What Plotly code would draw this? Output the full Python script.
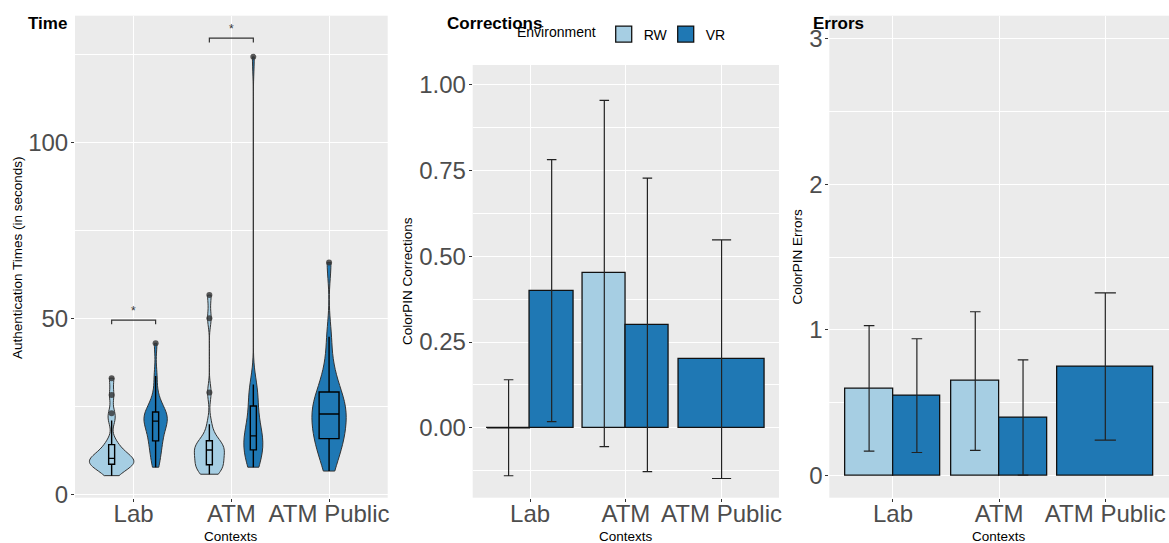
import numpy as np
import plotly.graph_objects as go

W, H = 1169, 543
FONT = "Liberation Sans, Arial, sans-serif"

# ---------------- data ----------------
contexts = ["Lab", "ATM", "ATM Public"]
environments = ["RW", "VR"]

# Authentication times (seconds), estimated samples per group
time_lab_rw = [5.3, 6.8, 7.5, 8.0, 8.3, 8.6, 8.9, 9.2, 9.5, 9.8, 10.2, 10.6, 11.0,
               11.6, 12.5, 13.8, 15.0, 21.0, 23.0, 28.2, 33.0]
time_lab_vr = [7.7, 9.5, 11.5, 13.0, 14.5, 15.4, 16.8, 18.0, 19.2, 20.0, 20.8, 21.3,
               21.8, 22.2, 22.7, 23.2, 24.0, 25.5, 28.0, 33.6, 42.9]
time_atm_rw = [5.7, 6.5, 7.0, 7.6, 8.0, 8.5, 9.3, 10.2, 11.0, 11.8, 12.6, 13.0, 13.4,
               13.8, 14.3, 14.8, 16.5, 19.9, 28.9, 50.0, 56.6]
time_atm_vr = [7.7, 8.5, 9.5, 10.5, 11.8, 12.9, 13.6, 14.3, 15.0, 15.8, 16.6, 17.5,
               18.5, 20.0, 22.0, 24.6, 26.5, 28.5, 30.0, 31.2, 124.3]
time_atmpub_vr = [6.6, 9.5, 12.0, 13.8, 15.0, 16.1, 17.5, 19.0, 20.2, 21.5, 22.8, 23.8,
                  24.8, 25.8, 27.0, 28.6, 30.5, 33.0, 37.0, 44.8, 65.9]

time_groups = [
    ("Lab", "RW", time_lab_rw),
    ("Lab", "VR", time_lab_vr),
    ("ATM", "RW", time_atm_rw),
    ("ATM", "VR", time_atm_vr),
    ("ATM Public", "VR", time_atmpub_vr),
]

# significance brackets (context, bracket height, label)
sig_contexts = ["Lab", "ATM"]
sig_heights = [49.5, 129.6]
sig_labels = ["*", "*"]

# ColorPIN corrections: mean and error
corr_rw_ctx = ["Lab", "ATM"]
corr_rw_mean = [0.0, 0.45]
corr_rw_err = [0.14, 0.505]
corr_vr_ctx = ["Lab", "ATM", "ATM Public"]
corr_vr_mean = [0.40, 0.30, 0.20]
corr_vr_err = [0.382, 0.428, 0.348]

# ColorPIN errors: mean and error
err_rw_ctx = ["Lab", "ATM"]
err_rw_mean = [0.60, 0.65]
err_rw_err = [0.43, 0.475]
err_vr_ctx = ["Lab", "ATM", "ATM Public"]
err_vr_mean = [0.55, 0.40, 0.75]
err_vr_err = [0.39, 0.395, 0.505]

time_ticks = [0, 50, 100]
time_minor = [25, 75, 125]
corr_ticks = [0.0, 0.25, 0.5, 0.75, 1.0]
corr_minor = [-0.125, 0.125, 0.375, 0.625, 0.875]
err_ticks = [0, 1, 2, 3]
err_minor = [0.5, 1.5, 2.5]

# ---------------- style ----------------
colors = {"RW": "#A6CEE3", "VR": "#1F78B4"}
violin_width = {("Lab", "RW"): 0.453, ("Lab", "VR"): 0.239, ("ATM", "RW"): 0.307,
                ("ATM", "VR"): 0.194, ("ATM Public", "VR"): 0.351}
box_frac = {("Lab", "RW"): 0.135, ("Lab", "VR"): 0.26, ("ATM", "RW"): 0.2,
            ("ATM", "VR"): 0.32, ("ATM Public", "VR"): 0.58}

def px(x):
    return x / W

def py(y):
    return 1 - y / H

dom_x = [[px(75), px(387.7)], [px(472.7), px(779)], [px(829.3), 1.0]]
dom_y = [[py(497.7), py(15.7)], [py(497.7), py(65)], [py(497.7), py(15.7)]]
y_ranges = [[-0.97, 136.0], [-0.204, 1.058], [-0.15, 3.155]]
X_RANGE = [0.4, 3.6]


def dodge(pairs):
    pos = {}
    for i, c in enumerate(contexts):
        envs = [e for e in environments if (c, e) in pairs]
        n = len(envs)
        if n == 0:
            continue
        w = 0.9 / n
        for j, e in enumerate(envs):
            pos[(c, e)] = ((i + 1) - 0.45 + w * (j + 0.5), w)
    return pos


def nrd0(d):
    d = np.asarray(d, dtype=float)
    q1, q3 = np.percentile(d, [25, 75])
    s = min(np.std(d, ddof=1), (q3 - q1) / 1.34)
    return 0.9 * s * len(d) ** -0.2


fig = go.Figure()

# ---------------- panel 1: violins ----------------
vpos = dodge([(c, e) for c, e, _ in time_groups])
for c, e, d in time_groups:
    center, _ = vpos[(c, e)]
    fig.add_trace(go.Violin(
        x=[center] * len(d), y=d, xaxis="x", yaxis="y",
        width=violin_width[(c, e)], scalemode="width", spanmode="hard",
        bandwidth=nrd0(d), fillcolor=colors[e],
        line=dict(color="#333333", width=1), opacity=1,
        box=dict(visible=True, width=box_frac[(c, e)], fillcolor=colors[e],
                 line=dict(color="black", width=1.4)),
        meanline=dict(visible=False),
        points="outliers", pointpos=0, jitter=0,
        marker=dict(color="rgba(51,51,51,0.8)", size=6, line=dict(width=0)),
        showlegend=False, hoverinfo="y", name=f"{c} {e}",
    ))

for c, h, lab in zip(sig_contexts, sig_heights, sig_labels):
    i = contexts.index(c) + 1
    xl, xr = i - 0.225, i + 0.225
    fig.add_trace(go.Scatter(
        x=[xl, xl, xr, xr], y=[h - 1.2, h, h, h - 1.2], mode="lines",
        line=dict(color="#333333", width=1.2), xaxis="x", yaxis="y",
        showlegend=False, hoverinfo="skip"))
    fig.add_annotation(x=i, y=h + 2.6, xref="x", yref="y", text=lab,
                       showarrow=False, font=dict(size=12, color="#333333", family=FONT))

# ---------------- bar panels ----------------
def add_bars(ax, rw_ctx, rw_mean, rw_err, vr_ctx, vr_mean, vr_err, panel_idx):
    pairs = [(c, "RW") for c in rw_ctx] + [(c, "VR") for c in vr_ctx]
    pos = dodge(pairs)
    ppu = (dom_x[panel_idx][1] - dom_x[panel_idx][0]) * W / (X_RANGE[1] - X_RANGE[0])
    for e, cs, ms, es in [("RW", rw_ctx, rw_mean, rw_err), ("VR", vr_ctx, vr_mean, vr_err)]:
        for c, m, er in zip(cs, ms, es):
            center, w = pos[(c, e)]
            fig.add_trace(go.Bar(
                x=[center], y=[m], width=[w], name=e, legendgroup=e, showlegend=False,
                xaxis="x" + ax, yaxis="y" + ax,
                marker=dict(color=colors[e], line=dict(color="#111111", width=1.3)),
                error_y=dict(type="data", array=[er], visible=True, color="#222222",
                             thickness=1.2, width=w * 0.111 * ppu),
            ))
            if m == 0:
                fig.add_trace(go.Scatter(
                    x=[center - w / 2, center + w / 2], y=[m, m], mode="lines",
                    line=dict(color="#111111", width=1.3), xaxis="x" + ax,
                    yaxis="y" + ax, showlegend=False, hoverinfo="skip"))


add_bars("2", corr_rw_ctx, corr_rw_mean, corr_rw_err, corr_vr_ctx, corr_vr_mean, corr_vr_err, 1)
add_bars("3", err_rw_ctx, err_rw_mean, err_rw_err, err_vr_ctx, err_vr_mean, err_vr_err, 2)

# legend keys (square fill keys like ggplot)
for e in environments:
    fig.add_trace(go.Scatter(
        x=[None], y=[None], mode="markers", name=e, legendgroup=e,
        marker=dict(symbol="square", size=16, color=colors[e],
                    line=dict(color="#111111", width=1.3)),
        xaxis="x2", yaxis="y2", showlegend=True, hoverinfo="skip"))

# ---------------- axes ----------------
def xaxis_cfg(i):
    return dict(domain=dom_x[i], range=X_RANGE, tickvals=[1, 2, 3], ticktext=contexts,
                showgrid=True, gridcolor="white", gridwidth=1.3, zeroline=False,
                showline=False, ticks="outside", ticklen=3, tickwidth=1,
                tickcolor="#333333", tickfont=dict(size=24, color="#4D4D4D", family=FONT),
                ticklabelstandoff=-9,
                anchor="y" if i == 0 else f"y{i+1}", fixedrange=True, automargin=False)


def yaxis_cfg(i, ticks, labels, minor):
    return dict(domain=dom_y[i], range=y_ranges[i], tickvals=ticks, ticktext=labels,
                showgrid=True, gridcolor="white", gridwidth=1.3, zeroline=False,
                showline=False, ticks="outside", ticklen=3, tickwidth=1,
                tickcolor="#333333", tickfont=dict(size=24, color="#4D4D4D", family=FONT),
                ticklabelstandoff=-2,
                minor=dict(tickvals=minor, showgrid=True, gridcolor="white",
                           gridwidth=0.6, ticks=""),
                anchor="x" if i == 0 else f"x{i+1}", fixedrange=True, automargin=False)


fig.update_layout(
    width=W, height=H, margin=dict(l=0, r=0, t=0, b=0, pad=0, autoexpand=False),
    autosize=False,
    paper_bgcolor="white", plot_bgcolor="#EBEBEB",
    barmode="overlay", violinmode="overlay", bargap=0,
    font=dict(family=FONT, color="black"),
    xaxis=xaxis_cfg(0), xaxis2=xaxis_cfg(1), xaxis3=xaxis_cfg(2),
    yaxis=yaxis_cfg(0, time_ticks, [str(t) for t in time_ticks], time_minor),
    yaxis2=yaxis_cfg(1, corr_ticks, [f"{t:.2f}" for t in corr_ticks], corr_minor),
    yaxis3=yaxis_cfg(2, err_ticks, [str(t) for t in err_ticks], err_minor),
    legend=dict(orientation="h", x=px(515), xanchor="left", y=py(34.5), yanchor="middle",
                title=dict(text="Environment", side="left", font=dict(size=14)),
                font=dict(size=14), bgcolor="rgba(0,0,0,0)", traceorder="normal",
                entrywidth=17, entrywidthmode="pixels", itemwidth=30),
    showlegend=True,
)

# panel titles
for txt, x0 in [("Time", 25.7), ("Corrections", 445), ("Errors", 810.5)]:
    fig.add_annotation(x=px(x0), y=py(23.3), xref="paper", yref="paper",
                       xanchor="left", yanchor="middle", text=f"<b>{txt}</b>",
                       showarrow=False, font=dict(size=17, color="black", family=FONT))

# axis titles
for txt, xc, yc in [("Authentication Times (in seconds)", 17.5, 257.5),
                    ("ColorPIN Corrections", 407.5, 281.5),
                    ("ColorPIN Errors", 797.8, 256.7)]:
    fig.add_annotation(x=px(xc), y=py(yc), xref="paper", yref="paper",
                       xanchor="center", yanchor="middle", text=txt, textangle=-90,
                       showarrow=False, font=dict(size=13.5, color="black", family=FONT))
for xc in [231.3, 625.9, 999.2]:
    fig.add_annotation(x=px(xc), y=py(536.7), xref="paper", yref="paper",
                       xanchor="center", yanchor="middle", text="Contexts",
                       showarrow=False, font=dict(size=13.5, color="black", family=FONT))

fig.write_html("out.html")
